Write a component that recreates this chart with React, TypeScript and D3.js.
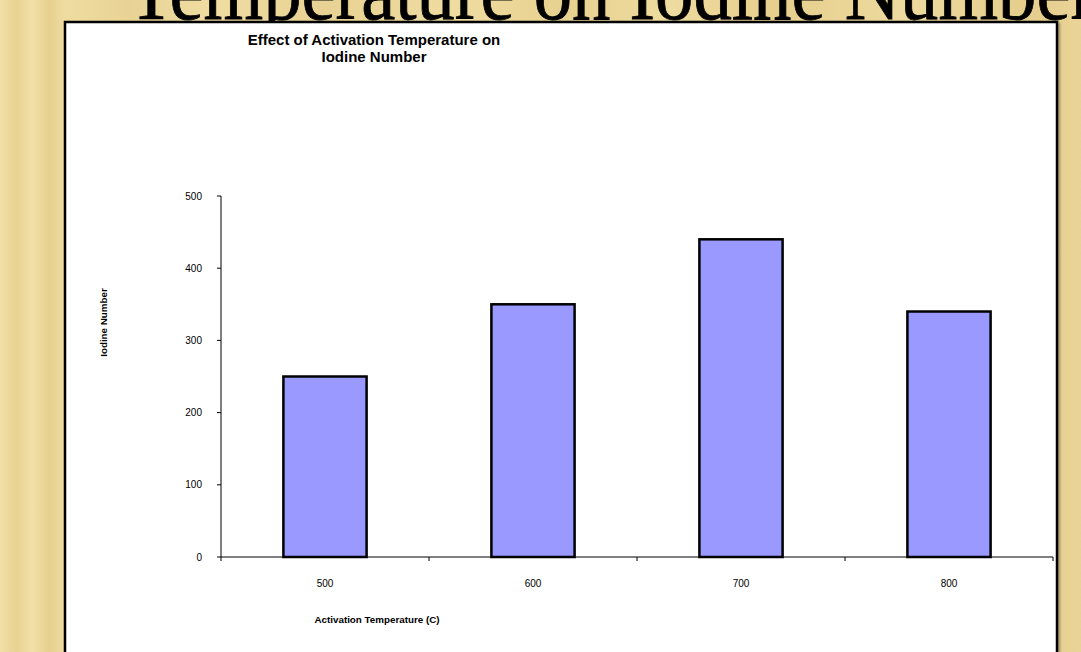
import React from "react";
import * as d3 from "d3";

const categories = ["500", "600", "700", "800"];
const iodineValues = [250, 350, 440, 340];
const yTicks = [0, 100, 200, 300, 400, 500];
const chartTitle = ["Effect of Activation Temperature on", "Iodine Number"];
const slideTitle = "Temperature on Iodine Number";
const xTitle = "Activation Temperature (C)";
const yTitle = "Iodine Number";

const bgStops = [
  ["0%", "#f1dfa6"], ["1.5%", "#e9d393"], ["3%", "#f2e0a8"], ["4.5%", "#e6d08f"],
  ["6%", "#efdca0"], ["12%", "#e8d395"], ["20%", "#f0dda2"], ["30%", "#e8d293"],
  ["42%", "#efdca1"], ["52%", "#e7d190"], ["62%", "#eedb9f"], ["72%", "#e6cf8d"],
  ["84%", "#eedaa0"], ["95%", "#e5ce8c"], ["100%", "#e9d396"],
];

export default function App() {
  const W = 1081, H = 652;
  const plot = { left: 221, right: 1053, top: 196, bottom: 557 };
  const x = d3.scaleBand<string>().domain(categories).range([plot.left, plot.right]).paddingInner(0.6).paddingOuter(0.3);
  const xOuter = d3.scaleBand<string>().domain(categories).range([plot.left, plot.right]);
  const y = d3.scaleLinear().domain([0, 500]).range([plot.bottom, plot.top]);
  const font = "Arial, 'Liberation Sans', Helvetica, sans-serif";
  const boundaries = [...categories.map((c) => xOuter(c) as number), plot.right];

  return (
    <svg width={W} height={H} style={{ position: "absolute", left: 0, top: 0 }}>
      <defs>
        <linearGradient id="bg" x1="0" x2="1" y1="0" y2="0">
          {bgStops.map(([o, c]) => <stop key={o} offset={o} stopColor={c} />)}
        </linearGradient>
        <filter id="shadow" x="-5%" y="-5%" width="110%" height="110%">
          <feDropShadow dx="2" dy="2" stdDeviation="1.2" floodColor="#000" floodOpacity="0.3" />
        </filter>
      </defs>
      <rect x={0} y={0} width={W} height={H} fill="url(#bg)" />
      <text x={128} y={19} fontFamily="'Liberation Serif', 'Times New Roman', serif" fontSize={82}
        textLength={968} lengthAdjust="spacingAndGlyphs" fill="#000" stroke="#000" strokeWidth={0.8}>{slideTitle}</text>
      <rect x={65} y={22} width={992} height={700} fill="#fff" stroke="#000" strokeWidth={2.5} filter="url(#shadow)" />

      <g fontFamily={font} fontWeight="bold" fontSize={15} textAnchor="middle" fill="#000">
        {chartTitle.map((t, i) => (
          <text key={i} x={374} y={45 + i * 17}>{t}</text>
        ))}
      </g>

      {/* bars */}
      {categories.map((c, i) => (
        <rect key={c} x={x(c)} y={y(iodineValues[i])} width={x.bandwidth()} height={y(0) - y(iodineValues[i])}
          fill="#9999ff" stroke="#000" strokeWidth={2.5} />
      ))}

      {/* y axis */}
      <line x1={plot.left} x2={plot.left} y1={plot.top} y2={plot.bottom} stroke="#000" strokeWidth={1} />
      {yTicks.map((t) => (
        <g key={t}>
          <line x1={plot.left - 4} x2={plot.left} y1={y(t)} y2={y(t)} stroke="#000" strokeWidth={1} />
          <text x={202} y={y(t)} dy="0.35em" textAnchor="end" fontFamily={font} fontSize={10} fill="#000">{t}</text>
        </g>
      ))}

      {/* x axis */}
      <line x1={plot.left} x2={plot.right} y1={plot.bottom} y2={plot.bottom} stroke="#000" strokeWidth={1} />
      {boundaries.map((b, i) => (
        <line key={i} x1={b} x2={b} y1={plot.bottom} y2={plot.bottom + 4} stroke="#000" strokeWidth={1} />
      ))}
      {categories.map((c) => (
        <text key={c} x={(x(c) as number) + x.bandwidth() / 2} y={587} textAnchor="middle" fontFamily={font} fontSize={10} fill="#000">{c}</text>
      ))}

      <text x={377} y={623} textAnchor="middle" fontFamily={font} fontWeight="bold" fontSize={9.8} fill="#000">{xTitle}</text>
      <text transform={`translate(107,${(plot.top + plot.bottom) / 2 - 54}) rotate(-90)`} textAnchor="middle"
        fontFamily={font} fontWeight="bold" fontSize={9.8} fill="#000">{yTitle}</text>
    </svg>
  );
}
